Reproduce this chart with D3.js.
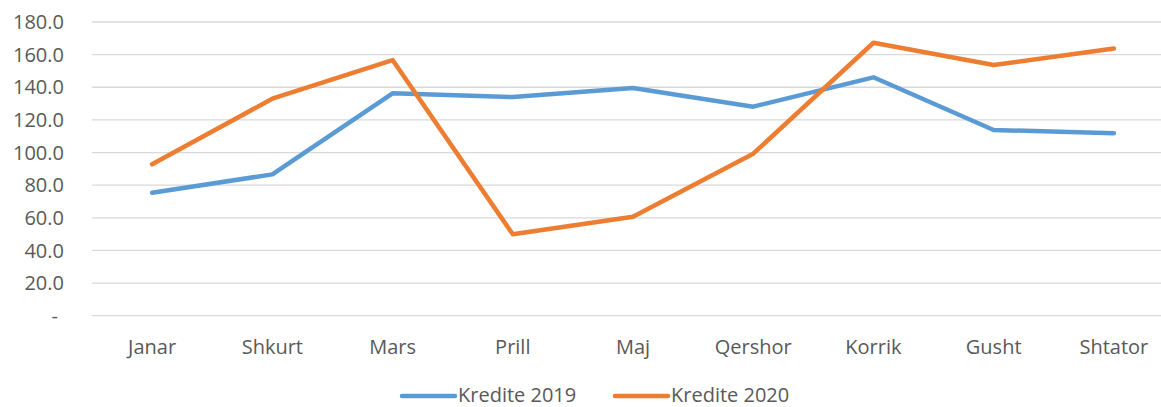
<!DOCTYPE html>
<html>
<head>
<meta charset="utf-8">
<script src="https://cdn.jsdelivr.net/npm/d3@7"></script>
<style>
  html, body { margin: 0; padding: 0; background: #fff; }
  svg { display: block; font-family: "Open Sans", "Liberation Sans", sans-serif; }
</style>
</head>
<body>
<svg id="chart" width="1161" height="407"></svg>
<script>
const categories = ["Janar", "Shkurt", "Mars", "Prill", "Maj", "Qershor", "Korrik", "Gusht", "Shtator"];
const kredite2019 = [75.4, 86.6, 136.3, 134.0, 139.5, 128.1, 146.1, 113.8, 111.8];
const kredite2020 = [92.8, 133.0, 156.7, 49.9, 60.7, 99.3, 167.3, 153.6, 163.8];
const yTicks = [0, 20, 40, 60, 80, 100, 120, 140, 160, 180];
const seriesNames = ["Kredite 2019", "Kredite 2020"];
const seriesColors = ["#5B9BD5", "#ED7D31"];

const svg = d3.select("#chart");
const x = d3.scaleBand().domain(categories).range([92, 1174]);
const y = d3.scaleLinear().domain([0, 180]).range([315.7, 22]);
const textColor = "#595959";

// gridlines
svg.append("g").selectAll("line").data(yTicks).join("line")
  .attr("x1", 92).attr("x2", 1161)
  .attr("y1", d => y(d)).attr("y2", d => y(d))
  .attr("stroke", "#D9D9D9").attr("stroke-width", 1.3);

// y labels
svg.append("g").selectAll("text").data(yTicks).join("text")
  .attr("x", d => d === 0 ? 58 : 64)
  .attr("y", d => y(d))
  .attr("dy", "0.36em")
  .attr("text-anchor", "end")
  .attr("fill", textColor)
  .attr("font-size", 20)
  .text(d => d === 0 ? "-" : d.toFixed(1));

// x labels
svg.append("g").selectAll("text").data(categories).join("text")
  .attr("x", d => x(d) + x.bandwidth() / 2)
  .attr("y", 354)
  .attr("text-anchor", "middle")
  .attr("fill", textColor)
  .attr("font-size", 20)
  .text(d => d);

const line = d3.line()
  .x((d, i) => x(categories[i]) + x.bandwidth() / 2)
  .y(d => y(d));

[kredite2019, kredite2020].forEach((vals, k) => {
  svg.append("path").datum(vals)
    .attr("d", line)
    .attr("fill", "none")
    .attr("stroke", seriesColors[k])
    .attr("stroke-width", 4.5)
    .attr("stroke-linejoin", "round")
    .attr("stroke-linecap", "round");
});

// legend
const legendX = [400, 613];
const leg = svg.append("g").selectAll("g").data(seriesNames).join("g")
  .attr("transform", (d, i) => `translate(${legendX[i]},396)`);
leg.append("line")
  .attr("x1", 2).attr("x2", 55).attr("y1", 0).attr("y2", 0)
  .attr("stroke", (d, i) => seriesColors[i])
  .attr("stroke-width", 4.5)
  .attr("stroke-linecap", "round");
leg.append("text")
  .attr("x", 58).attr("y", 0).attr("dy", "0.3em")
  .attr("fill", textColor)
  .attr("font-size", 20)
  .text(d => d);
</script>
</body>
</html>
